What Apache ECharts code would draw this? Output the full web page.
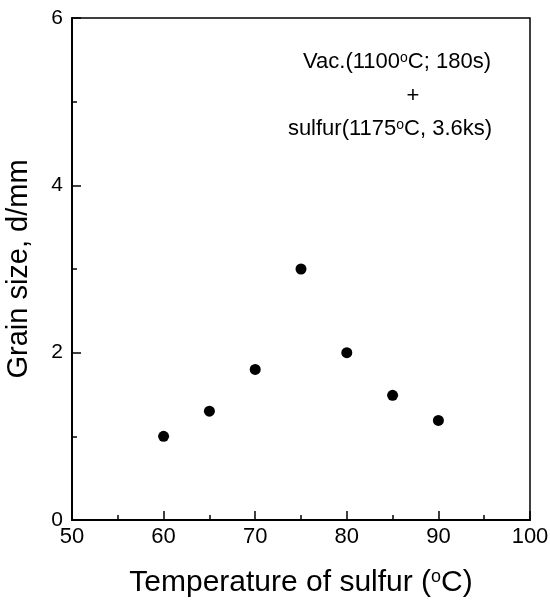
<!DOCTYPE html>
<html><head><meta charset="utf-8">
<script src="https://cdn.jsdelivr.net/npm/echarts@6/dist/echarts.min.js"></script>
<style>html,body{margin:0;padding:0;background:#fff}#c{width:550px;height:604px}</style>
</head><body><div id="c"></div>
<script>
const temps = [60, 65, 70, 75, 80, 85, 90];
const grainSize = [1.0, 1.30, 1.80, 3.0, 2.0, 1.49, 1.19];
const xTicks = [50, 60, 70, 80, 90, 100];
const yTicks = [0, 2, 4, 6];
const noteLines = ['Vac.(1100', 'C; 180s)', '+', 'sulfur(1175', 'C, 3.6ks)'];

const FONT = '"Liberation Sans", Arial, sans-serif';
const chart = echarts.init(document.getElementById('c'));
const sup = {fontSize: 14, fontFamily: FONT, fill: '#000', color: '#000', verticalAlign: 'top'};
const tickStyle = {color: '#000', width: 1.5};
chart.setOption({
  animation: false,
  backgroundColor: '#fff',
  grid: {left: 72, right: 20, top: 18, bottom: 84, outerBoundsMode: 'none', containLabel: false,
         show: true, borderColor: '#000', borderWidth: 1.5, backgroundColor: 'transparent'},
  xAxis: {
    type: 'value', min: xTicks[0], max: xTicks[xTicks.length - 1], interval: 10,
    axisLine: {lineStyle: {color: '#000', width: 2}},
    axisTick: {inside: true, length: 9, lineStyle: tickStyle},
    minorTick: {show: true, splitNumber: 2, length: 5, lineStyle: tickStyle},
    splitLine: {show: false},
    axisLabel: {color: '#000', fontSize: 22, fontFamily: FONT, margin: 6},
    name: 'Temperature of sulfur ({s|o}C)',
    nameLocation: 'middle', nameGap: 48,
    nameTextStyle: {color: '#000', fontSize: 30, fontFamily: FONT,
      rich: {s: {fontSize: 18, fontFamily: FONT, color: '#000', verticalAlign: 'top'}}}
  },
  yAxis: {
    type: 'value', min: yTicks[0], max: yTicks[yTicks.length - 1], interval: 2,
    axisLine: {lineStyle: {color: '#000', width: 2}},
    axisTick: {inside: true, length: 9, lineStyle: tickStyle},
    minorTick: {show: true, splitNumber: 2, length: 5, lineStyle: tickStyle},
    splitLine: {show: false},
    axisLabel: {color: '#000', fontSize: 21, fontFamily: FONT, margin: 9},
    name: 'Grain size, d/mm',
    nameLocation: 'middle', nameGap: 39,
    nameTextStyle: {color: '#000', fontSize: 29, fontFamily: FONT}
  },
  graphic: [
    {type: 'text', x: 397, y: 62, style: {
      text: noteLines[0] + '{s|o}' + noteLines[1], fill: '#000', font: '22px ' + FONT,
      align: 'center', verticalAlign: 'middle', rich: {s: sup}}},
    {type: 'text', x: 413, y: 96, style: {text: noteLines[2], fill: '#000', font: '22px ' + FONT,
      align: 'center', verticalAlign: 'middle'}},
    {type: 'text', x: 390, y: 129, style: {
      text: noteLines[3] + '{s|o}' + noteLines[4], fill: '#000', font: '22px ' + FONT,
      align: 'center', verticalAlign: 'middle', rich: {s: sup}}}
  ],
  series: [{
    type: 'scatter', symbol: 'circle', symbolSize: 11,
    itemStyle: {color: '#000', opacity: 1},
    data: temps.map((t, i) => [t, grainSize[i]])
  }]
});
</script></body></html>
